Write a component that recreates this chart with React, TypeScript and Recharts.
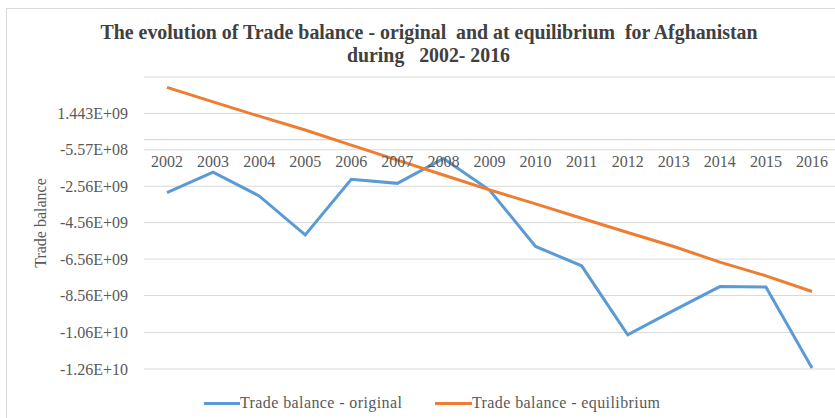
import React from 'react';
import { LineChart, Line, XAxis, YAxis, CartesianGrid, ReferenceLine, Legend } from 'recharts';

const years = ['2002', '2003', '2004', '2005', '2006', '2007', '2008', '2009', '2010', '2011', '2012', '2013', '2014', '2015', '2016'];
const original = [-2.91e9, -1.78e9, -3.09e9, -5.23e9, -2.18e9, -2.4e9, -1.03e9, -2.77e9, -5.87e9, -6.93e9, -10.72e9, -9.38e9, -8.07e9, -8.1e9, -12.55e9];
const equilibrium = [2.87e9, 2.08e9, 1.29e9, 0.53e9, -0.3e9, -1.12e9, -1.94e9, -2.76e9, -3.53e9, -4.32e9, -5.1e9, -5.87e9, -6.73e9, -7.48e9, -8.34e9];
const yTicks = [1.443e9, -5.57e8, -2.56e9, -4.56e9, -6.56e9, -8.56e9, -1.06e10, -1.26e10];
const yTickLabels = ['1.443E+09', '-5.57E+08', '-2.56E+09', '-4.56E+09', '-6.56E+09', '-8.56E+09', '-1.06E+10', '-1.26E+10'];

const data = years.map((year, i) => ({ year, original: original[i], equilibrium: equilibrium[i] }));

const FONT = "'Liberation Serif', 'Times New Roman', serif";
const Y_MIN = -1.26e10;
const Y_MAX = 3.443e9;
const PLOT_TOP = 77;
const PLOT_BOTTOM = 369;
// category axis crosses at zero, like the excel original
const ZERO_Y = PLOT_TOP + ((Y_MAX - 0) / (Y_MAX - Y_MIN)) * (PLOT_BOTTOM - PLOT_TOP);

const YearTick = ({ x, payload }: any) => (
  <text x={x} y={ZERO_Y + 27} textAnchor="middle" fontSize={16} fill="#595959" fontFamily={FONT}>
    {payload.value}
  </text>
);

const ChartLegend = () => (
  <div style={{ position: 'relative', height: 24, fontFamily: FONT, fontSize: 16, color: '#595959', letterSpacing: 0.4 }}>
    <div style={{ position: 'absolute', left: 204, top: 10, width: 36, height: 3, background: '#5B9BD5' }} />
    <span style={{ position: 'absolute', left: 240, top: 2, whiteSpace: 'nowrap' }}>Trade balance - original</span>
    <div style={{ position: 'absolute', left: 435, top: 10, width: 37, height: 3, background: '#ED7D31' }} />
    <span style={{ position: 'absolute', left: 472, top: 2, whiteSpace: 'nowrap' }}>Trade balance - equilibrium</span>
  </div>
);

const App: React.FC = () => {
  return (
    <div style={{ position: 'absolute', left: 0, top: 0, width: 835, height: 418, overflow: 'hidden', background: '#fff' }}>
      <div style={{ position: 'absolute', left: 6, top: 8, width: 840, height: 420, border: '1px solid #d9d9d9', boxSizing: 'border-box' }} />
      <svg width={835} height={70} style={{ position: 'absolute', left: 0, top: 0 }}>
        <text x={429} y={39} textAnchor="middle" fontFamily={FONT} fontWeight="bold" fontSize={20} fill="#404040" textLength={657} lengthAdjust="spacingAndGlyphs" style={{ whiteSpace: 'pre' }}>
          The evolution of Trade balance - original  and at equilibrium  for Afghanistan
        </text>
        <text x={428.5} y={62} textAnchor="middle" fontFamily={FONT} fontWeight="bold" fontSize={20} fill="#404040" textLength={163} lengthAdjust="spacingAndGlyphs" style={{ whiteSpace: 'pre' }}>
          during   2002- 2016
        </text>
      </svg>
      <div style={{ position: 'absolute', left: 0, top: 0 }}>
        <LineChart width={835} height={418} data={data} margin={{ top: PLOT_TOP, right: 0, left: 0, bottom: 24 }}>
          <CartesianGrid horizontal vertical={false} stroke="#d9d9d9" />
          <XAxis
            dataKey="year"
            height={1}
            axisLine={false}
            tickLine={false}
            interval={0}
            padding={{ left: 23, right: 23 }}
            tick={<YearTick />}
          />
          <YAxis
            width={144}
            domain={[Y_MIN, Y_MAX]}
            ticks={yTicks}
            interval={0}
            allowDataOverflow
            axisLine={false}
            tickLine={false}
            tickSize={6}
            tickMargin={10}
            tick={{ fontSize: 16, fill: '#595959', fontFamily: FONT }}
            tickFormatter={(v: number) => yTickLabels[yTicks.indexOf(v)] ?? ''}
            label={{ value: 'Trade balance', angle: -90, position: 'insideLeft', offset: 40, fill: '#595959', fontSize: 16, fontFamily: FONT, style: { textAnchor: 'middle' } }}
          />
          <ReferenceLine y={0} stroke="#d0d0d0" />
          <Legend verticalAlign="bottom" content={<ChartLegend />} wrapperStyle={{ bottom: 2, left: 0, width: 835 }} />
          <Line type="linear" dataKey="original" stroke="#5B9BD5" strokeWidth={3} dot={false} isAnimationActive={false} />
          <Line type="linear" dataKey="equilibrium" stroke="#ED7D31" strokeWidth={3} dot={false} isAnimationActive={false} />
        </LineChart>
      </div>
    </div>
  );
};

export default App;
